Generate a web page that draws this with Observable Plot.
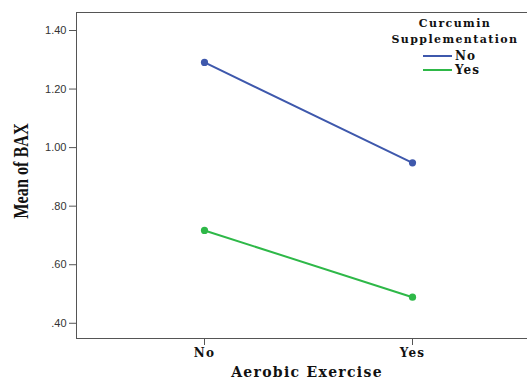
<!DOCTYPE html>
<html>
<head>
<meta charset="utf-8">
<script src="https://cdn.jsdelivr.net/npm/d3@7"></script>
<script src="https://cdn.jsdelivr.net/npm/@observablehq/plot@0.6"></script>
<style>
  html, body { margin: 0; padding: 0; background: #fff; overflow: hidden; }
  #wrap { position: relative; width: 527px; height: 379px; overflow: hidden; }
  #wrap svg { max-width: none !important; display: block; }
  g[aria-label="x-axis tick label"] text { letter-spacing: 1.2px; }
  .lbl { position: absolute; font-family: "DejaVu Serif", serif; font-weight: bold; color: #111; white-space: nowrap; }
  #xlab { left: 0; width: 614px; top: 364px; font-size: 14px; letter-spacing: 1.3px; text-align: center; }
  #ylab { left: 21px; top: 171px; font-family: "Liberation Serif", serif; font-size: 20px; line-height: 20px; transform: translate(-50%, -50%) rotate(-90deg) scaleX(0.81); }
  #legend { position: absolute; left: 383px; top: 17px; width: 144px; font-family: "DejaVu Serif", serif; font-weight: bold; color: #111; }
  #legend .title { font-size: 11px; letter-spacing: 1.4px; text-align: center; line-height: 14px; margin-bottom: 2px; }
  #legend .row { display: flex; align-items: center; height: 14px; margin-left: 40px; font-size: 12px; letter-spacing: 1px; }
  #legend .sw { width: 29px; height: 2px; margin-right: 3px; }
</style>
</head>
<body>
<div id="wrap"></div>
<script>
const aerobic = ["No", "Yes"];
const curcumin = ["No", "Yes"];
const meanNo = [1.291, 0.948];   // Curcumin = No
const meanYes = [0.717, 0.489];  // Curcumin = Yes
const yTicks = [0.40, 0.60, 0.80, 1.00, 1.20, 1.40];
const colors = ["#3e58ac", "#2eb848"];

const data = [];
aerobic.forEach((a, i) => {
  data.push({aerobic: a, curcumin: curcumin[0], mean: meanNo[i]});
  data.push({aerobic: a, curcumin: curcumin[1], mean: meanYes[i]});
});

const chart = Plot.plot({
  width: 545,
  height: 379,
  marginTop: 12,
  marginBottom: 41,
  marginLeft: 76,
  marginRight: 0,
  style: {background: "transparent", overflow: "visible", maxWidth: "none"},
  x: {type: "point", domain: aerobic, range: [203.3, 411.7], padding: 0},
  y: {domain: [0.348, 1.4615]},
  color: {domain: curcumin, range: colors},
  marks: [
    Plot.frame({stroke: "#555", strokeWidth: 1}),
    Plot.axisY({ticks: yTicks, tickSize: 7, tickPadding: 3, tickFormat: d => d.toFixed(2).replace(/^0/, ""),
      fontFamily: "Liberation Sans, Arial, sans-serif", fontSize: 11, color: "#333", stroke: "#555", label: null}),
    Plot.axisX({tickSize: 7, tickPadding: 3, fontFamily: "DejaVu Serif, serif", fontWeight: "bold", fontSize: 12,
      color: "#111", stroke: "#555", label: null}),
    Plot.line(data, {x: "aerobic", y: "mean", stroke: "curcumin", strokeWidth: 2}),
    Plot.dot(data, {x: "aerobic", y: "mean", fill: "curcumin", r: 3.6})
  ]
});

const wrap = document.getElementById("wrap");
wrap.appendChild(chart);

const xlab = document.createElement("div");
xlab.className = "lbl"; xlab.id = "xlab"; xlab.textContent = "Aerobic Exercise";
wrap.appendChild(xlab);

const ylab = document.createElement("div");
ylab.className = "lbl"; ylab.id = "ylab"; ylab.textContent = "Mean of BAX";
wrap.appendChild(ylab);

const legend = document.createElement("div");
legend.id = "legend";
legend.innerHTML = `<div class="title">Curcumin</div><div class="title">Supplementation</div>` +
  curcumin.map((c, i) => `<div class="row"><div class="sw" style="background:${colors[i]}"></div>${c}</div>`).join("");
wrap.appendChild(legend);
</script>
</body>
</html>
